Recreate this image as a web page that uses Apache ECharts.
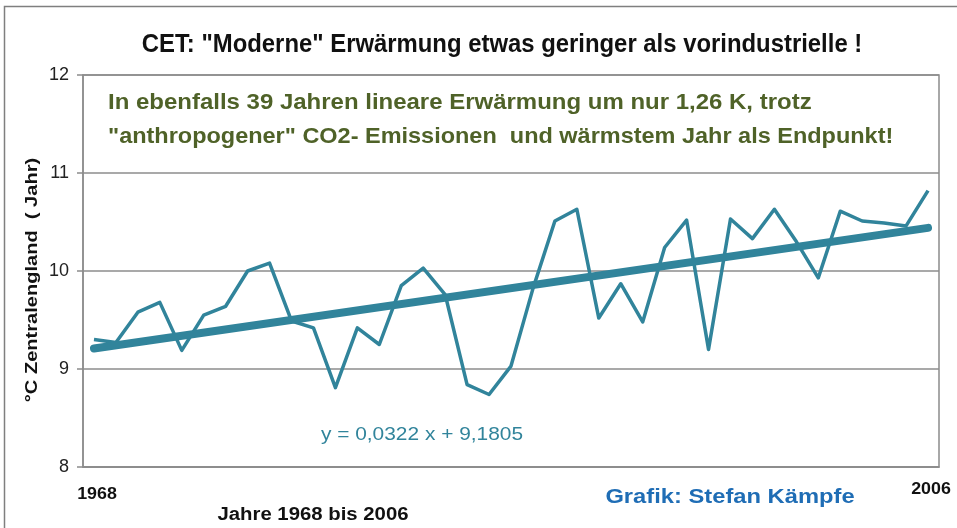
<!DOCTYPE html>
<html><head><meta charset="utf-8">
<script src="https://cdn.jsdelivr.net/npm/echarts@6/dist/echarts.min.js"></script>
<style>html,body{margin:0;padding:0;background:#fff}#c{width:957px;height:528px}</style>
</head><body><div id="c"></div>
<script>
const years = ['1968','1969','1970','1971','1972','1973','1974','1975','1976','1977','1978','1979','1980','1981','1982','1983','1984','1985','1986','1987','1988','1989','1990','1991','1992','1993','1994','1995','1996','1997','1998','1999','2000','2001','2002','2003','2004','2005','2006'];
const cetTemps = [9.30,9.27,9.58,9.68,9.19,9.55,9.64,10.00,10.08,9.49,9.42,8.81,9.42,9.25,9.85,10.03,9.76,8.84,8.74,9.03,9.82,10.51,10.63,9.52,9.87,9.48,10.24,10.52,9.20,10.53,10.33,10.63,10.30,9.93,10.61,10.51,10.49,10.46,10.82];
const trendYears = ['1968','2006'];
const trendValues = [9.21, 10.44];
const yTicks = [8, 9, 10, 11, 12];

const teal = '#31849B';
const FF = '"Liberation Sans", Arial, sans-serif';
const chart = echarts.init(document.getElementById('c'), null, {renderer:'canvas'});
chart.setOption({
  animation:false,
  backgroundColor:'#fff',
  grid:{left:83, right:18, top:75, bottom:61, show:true, borderColor:'#8c8c8c', borderWidth:1.5, backgroundColor:'transparent'},
  xAxis:{type:'category', data:years, boundaryGap:true,
    axisLine:{show:true, lineStyle:{color:'#8c8c8c', width:1.5}},
    axisTick:{show:false}, axisLabel:{show:false}, splitLine:{show:false}},
  yAxis:{type:'value', min:yTicks[0], max:yTicks[yTicks.length-1], interval:1,
    axisLine:{show:true, lineStyle:{color:'#8c8c8c', width:1.5}},
    axisTick:{show:true, length:6, lineStyle:{color:'#8c8c8c', width:1.5}},
    axisLabel:{fontFamily:FF, fontSize:18, color:'#222', margin:14},
    splitLine:{show:true, lineStyle:{color:'#8c8c8c', width:1.5}}},
  series:[
    {type:'line', data:cetTemps, symbol:'none', smooth:false,
      lineStyle:{color:teal, width:3.5, join:'round'}, z:3},
    {type:'line', data:trendYears.map((y,i)=>[y, trendValues[i]]), symbol:'none',
      lineStyle:{color:teal, width:8, cap:'round'}, z:4}
  ],
  graphic:[
    {type:'rect', shape:{x:4.5, y:6.5, width:1000, height:540}, style:{fill:'none', stroke:'#7f7f7f', lineWidth:1.5}, silent:true, z:-1},
    {type:'text', x:502, y:45, scaleX:0.955, style:{text:'CET: "Moderne" Erwärmung etwas geringer als vorindustrielle !', font:'bold 25px ' + FF, fill:'#111', align:'center', verticalAlign:'middle'}},
    {type:'text', x:108, y:103, scaleX:1.09, style:{text:'In ebenfalls 39 Jahren lineare Erwärmung um nur 1,26 K, trotz', font:'bold 22px ' + FF, fill:'#4F6228', align:'left', verticalAlign:'middle'}},
    {type:'text', x:108, y:137, scaleX:1.067, style:{text:'"anthropogener" CO2- Emissionen  und wärmstem Jahr als Endpunkt!', font:'bold 22px ' + FF, fill:'#4F6228', align:'left', verticalAlign:'middle'}},
    {type:'text', x:32, y:280, rotation:Math.PI/2, scaleX:1.18, style:{text:'°C Zentralengland  ( Jahr)', font:'bold 17px ' + FF, fill:'#111', align:'center', verticalAlign:'middle'}},
    {type:'text', x:422, y:435, scaleX:1.1, style:{text:'y = 0,0322 x + 9,1805', font:'19px ' + FF, fill:teal, align:'center', verticalAlign:'middle'}},
    {type:'text', x:97, y:494, scaleX:1.05, style:{text:years[0], font:'bold 17px ' + FF, fill:'#111', align:'center', verticalAlign:'middle'}},
    {type:'text', x:931, y:489, scaleX:1.05, style:{text:years[years.length-1], font:'bold 17px ' + FF, fill:'#111', align:'center', verticalAlign:'middle'}},
    {type:'text', x:313, y:515, scaleX:1.13, style:{text:'Jahre 1968 bis 2006', font:'bold 18px ' + FF, fill:'#111', align:'center', verticalAlign:'middle'}},
    {type:'text', x:730, y:497, scaleX:1.13, style:{text:'Grafik: Stefan Kämpfe', font:'bold 21px ' + FF, fill:'#1F6DB5', align:'center', verticalAlign:'middle'}}
  ]
});
</script></body></html>
